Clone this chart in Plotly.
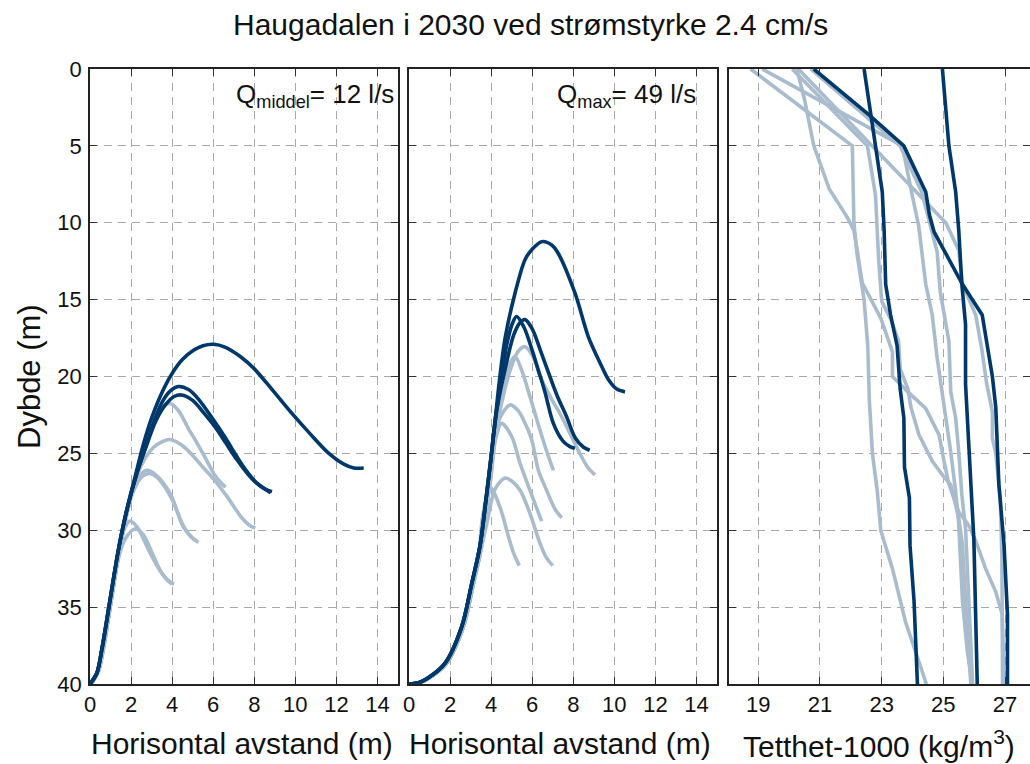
import plotly.graph_objects as go

# ---------------- data ----------------
# Panel 1: plume trajectories at mean discharge (horizontal distance m, depth m)
mid_dark_x = [
    [0, 0.33, 0.57, 0.98, 1.38, 1.79, 2.2, 2.6, 3.0, 3.5, 4.0, 4.5, 5.04, 5.5, 6.02, 6.6, 7.32, 8.0, 8.9, 9.9, 10.7, 11.55, 12.36, 12.85, 13.33],
    [0, 0.33, 0.57, 0.98, 1.38, 1.79, 2.28, 2.7, 3.1, 3.5, 3.9, 4.3, 4.8, 5.3, 6.0, 6.6, 7.15, 7.6, 8.1, 8.5, 8.86],
    [0, 0.33, 0.57, 0.98, 1.38, 1.79, 2.28, 2.75, 3.2, 3.7, 4.1, 4.45, 5.0, 5.5, 6.1, 6.6, 7.15, 7.6, 8.0, 8.5, 8.8],
]
mid_dark_z = [
    [40, 39.3, 37.8, 34.5, 31.3, 28.7, 26.5, 24.4, 22.7, 21.05, 19.8, 18.9, 18.3, 18.0, 17.9, 18.1, 18.7, 19.5, 20.9, 22.5, 23.7, 24.9, 25.7, 25.95, 25.95],
    [40, 39.3, 37.8, 34.5, 31.3, 28.7, 26.3, 24.6, 23.0, 21.7, 20.95, 20.65, 20.85, 21.5, 22.8, 24.0, 25.2, 26.1, 26.9, 27.3, 27.5],
    [40, 39.3, 37.8, 34.5, 31.3, 28.7, 26.3, 24.5, 22.9, 21.8, 21.3, 21.2, 21.55, 22.3, 23.3, 24.3, 25.4, 26.2, 26.8, 27.3, 27.55],
]
mid_light_x = [
    [0.05, 0.4, 0.65, 1.05, 1.45, 1.85, 2.3, 2.7, 3.1, 3.5, 3.9, 4.3, 4.8, 5.2, 5.7, 6.02, 6.3, 6.6],
    [0.05, 0.4, 0.65, 1.05, 1.45, 1.85, 2.3, 2.65, 3.1, 3.5, 3.9, 4.6, 5.5, 6.1, 6.67, 7.4, 7.8, 8.05],
    [0.05, 0.4, 0.65, 1.05, 1.45, 1.75, 2.05, 2.4, 2.76, 3.2, 3.9, 4.2, 4.55, 5.0, 5.28],
    [0.05, 0.4, 0.65, 1.05, 1.45, 1.8, 2.2, 2.55, 2.9, 3.3, 4.0, 4.5, 4.9, 5.2],
    [0.05, 0.4, 0.65, 1.05, 1.3, 1.5, 1.75, 1.95, 2.3, 2.9, 3.4, 3.8, 4.1],
    [0.05, 0.4, 0.65, 1.05, 1.35, 1.7, 2.2, 2.6, 3.0, 3.5, 4.0],
]
mid_light_z = [
    [40, 39.2, 37.7, 34.4, 31.2, 28.6, 26.2, 24.6, 22.8, 22.0, 21.75, 22.2, 23.4, 24.3, 25.5, 26.3, 26.8, 27.2],
    [40, 39.2, 37.7, 34.4, 31.2, 28.6, 26.4, 25.4, 24.6, 24.25, 24.1, 24.6, 25.9, 26.8, 27.8, 29.2, 29.7, 29.85],
    [40, 39.2, 37.7, 34.4, 31.2, 29.0, 27.5, 26.5, 26.1, 26.4, 27.6, 28.6, 29.8, 30.5, 30.8],
    [40, 39.2, 37.7, 34.4, 31.2, 28.8, 27.2, 26.5, 26.3, 26.6, 28.0, 29.6, 30.4, 30.7],
    [40, 39.2, 37.7, 34.4, 32.2, 30.5, 29.7, 29.4, 29.8, 31.4, 32.6, 33.3, 33.5],
    [40, 39.2, 37.7, 34.4, 32.0, 30.6, 29.9, 30.3, 31.4, 32.8, 33.5],
]

# Panel 2: plume trajectories at maximum discharge
max_dark_x = [
    [0, 0.5, 0.94, 1.75, 2.56, 3.05, 3.46, 3.75, 4.0, 4.2, 4.4, 4.68, 5.16, 5.65, 5.98, 6.46, 6.95, 7.27, 8.09, 8.73, 9.3, 9.71, 10.1, 10.52],
    [0, 0.5, 0.94, 1.75, 2.56, 3.05, 3.46, 3.75, 4.0, 4.2, 4.45, 4.75, 5.02, 5.24, 5.6, 6.0, 6.3, 6.62, 7.03, 7.5, 7.84, 8.08],
    [0, 0.5, 0.94, 1.75, 2.56, 3.05, 3.46, 3.75, 4.0, 4.3, 4.7, 5.1, 5.4, 5.65, 6.0, 6.4, 6.7, 7.2, 7.67, 8.1, 8.5, 8.8],
]
max_dark_z = [
    [40, 39.9, 39.6, 38.66, 36.3, 33.5, 31.0, 28.0, 25.2, 22.8, 20.3, 17.5, 14.6, 12.4, 11.75, 11.23, 11.45, 12.0, 14.6, 17.4, 19.1, 20.2, 20.8, 21.0],
    [40, 39.9, 39.6, 38.66, 36.3, 33.5, 31.0, 28.0, 25.2, 22.8, 20.6, 18.0, 16.6, 16.1, 16.8, 18.3, 19.6, 21.0, 23.05, 24.2, 24.56, 24.67],
    [40, 39.9, 39.6, 38.66, 36.3, 33.5, 31.0, 28.0, 25.2, 22.0, 19.4, 17.3, 16.5, 16.3, 16.9, 18.3, 19.4, 21.2, 22.6, 24.0, 24.6, 24.8],
]
max_light_x = [
    [0.05, 0.55, 1.0, 1.82, 2.64, 3.13, 3.54, 3.83, 4.2, 4.5, 4.9, 5.3, 5.65, 6.0, 6.46, 7.0, 7.43, 8.24, 8.7, 9.06],
    [0.05, 0.55, 1.0, 1.82, 2.64, 3.13, 3.54, 3.83, 4.2, 4.45, 4.8, 5.16, 5.49, 5.89, 6.38, 6.79, 7.03],
    [0.05, 0.55, 1.0, 1.82, 2.64, 3.13, 3.54, 3.83, 4.1, 4.4, 4.92, 5.3, 5.57, 5.97, 6.3, 6.7, 7.1, 7.44],
    [0.05, 0.55, 1.0, 1.82, 2.64, 3.13, 3.54, 3.83, 4.0, 4.2, 4.51, 5.0, 5.41, 5.89, 6.2, 6.46],
    [0.05, 0.55, 1.0, 1.82, 2.64, 3.13, 3.54, 3.8, 4.2, 4.68, 5.0, 5.41, 5.89, 6.38, 6.7, 7.0],
    [0.05, 0.55, 1.0, 1.82, 2.64, 3.13, 3.4, 3.6, 3.95, 4.43, 4.84, 5.1, 5.37],
]
max_light_z = [
    [40, 39.9, 39.6, 38.66, 36.3, 33.5, 31.0, 28.0, 23.8, 21.8, 19.7, 18.4, 18.06, 18.6, 20.2, 21.6, 22.6, 24.8, 25.9, 26.4],
    [40, 39.9, 39.6, 38.66, 36.3, 33.5, 31.0, 28.0, 23.8, 21.6, 19.5, 18.7, 19.6, 21.3, 23.5, 25.2, 26.1],
    [40, 39.9, 39.6, 38.66, 36.3, 33.5, 31.0, 28.0, 25.0, 22.8, 21.85, 22.2, 22.8, 24.1, 26.1, 27.4, 28.6, 29.2],
    [40, 39.9, 39.6, 38.66, 36.3, 33.5, 31.0, 28.0, 26.5, 24.2, 23.05, 23.9, 25.65, 27.4, 28.5, 29.4],
    [40, 39.9, 39.6, 38.66, 36.3, 33.5, 31.0, 29.5, 27.3, 26.6, 26.8, 27.4, 28.9, 30.85, 31.8, 32.3],
    [40, 39.9, 39.6, 38.66, 36.3, 33.5, 31.5, 29.0, 27.2, 28.5, 30.4, 31.5, 32.3],
]

# Panel 3: density profiles (density - 1000, kg/m3, vs depth m)
dens_dark_x = [
    [22.43, 22.64, 22.8, 23.02, 23.08, 23.13, 23.29, 23.5, 23.6, 23.72, 23.74, 23.9, 23.92, 24.05, 24.16],
    [24.97, 25.18, 25.4, 25.5, 25.6, 25.72, 25.72, 25.83, 25.99, 26.1],
    [20.8, 22.6, 23.72, 24.43, 24.55, 24.7, 25.62, 26.26, 26.59, 26.7, 26.8, 26.97, 27.08, 27.08],
]
dens_dark_z = [
    [0, 3.0, 5.0, 8.0, 10.5, 14.0, 16.0, 18.0, 20.8, 22.7, 25.9, 27.9, 31.0, 34.6, 40],
    [0, 5, 8, 10.5, 14, 16.6, 20.5, 24.9, 30.6, 40],
    [0, 3.0, 5.0, 8.0, 9.5, 10.6, 14.0, 16.0, 20.0, 22.0, 27.0, 31.0, 35.5, 40],
]
dens_light_x = [
    [18.75, 22.05, 22.1, 22.2, 22.43, 22.55, 22.6, 22.7, 22.86, 22.97, 23.35, 23.67, 23.78, 24.1, 24.45],
    [20.25, 20.5, 20.8, 21.3, 21.9, 22.1, 22.2, 22.37, 22.97, 23.35, 23.35, 23.85, 24.43, 24.86, 25.02, 25.18, 25.5, 25.83, 26.05, 26.37, 26.7, 26.91, 26.97],
    [20.3, 25.08, 25.5, 25.62, 26.05, 26.26, 26.4, 26.59, 26.59, 26.7, 26.85, 26.9, 26.92],
    [19.13, 23.67, 23.99, 24.2, 24.43, 24.64, 24.8, 24.97, 25.08, 25.24, 25.4, 25.5, 25.62, 25.78, 25.94],
    [20.1, 22.54, 22.8, 22.86, 22.9, 23.0, 23.3, 23.55, 23.6, 23.85, 23.95, 24.21, 24.64, 24.97, 25.24, 25.5, 25.62, 25.72, 25.89],
    [20.7, 23.6, 24.3, 24.57, 24.8, 24.9, 25.18, 25.24, 25.4, 25.5, 25.6, 25.72, 25.85, 25.95],
]
dens_light_z = [
    [0, 5, 10, 12, 15, 18, 21.5, 25, 27.5, 30, 32.5, 35, 36, 37.9, 40],
    [0, 2, 5, 7.8, 9.7, 10.5, 11.7, 13.9, 16.2, 18.4, 20, 21, 22.07, 23.8, 25.5, 27.0, 28.8, 29.7, 30.7, 32.5, 34.0, 35.5, 40],
    [0, 10, 11.8, 14, 16, 18.4, 20.4, 22.3, 24, 25, 28, 32, 40],
    [0, 5, 8.2, 10.2, 14, 16, 18.8, 21, 22.7, 24.9, 27.5, 29.6, 34.6, 37.9, 40],
    [0, 5, 8.2, 10.6, 12.3, 15.1, 16.3, 17.7, 19.5, 20.8, 22, 23.8, 25.5, 26.4, 27.05, 29.2, 30.95, 34.6, 40],
    [0, 5, 8, 10, 11.9, 14.5, 17.7, 21, 22.7, 24.9, 27.7, 29.9, 35, 40],
]

depth_ticks = [0, 5, 10, 15, 20, 25, 30, 35, 40]
dist_ticks = [0, 2, 4, 6, 8, 10, 12, 14]
dens_ticks = [19, 21, 23, 25, 27]

title_text = "Haugadalen i 2030 ved strømstyrke 2.4 cm/s"
q_mid_text = "Q<sub>middel</sub>= 12 l/s"
q_max_text = "Q<sub>max</sub>= 49 l/s"

# ---------------- styling ----------------
DARK = "#00386b"
LIGHT = "#a9bccd"
FONT = "Liberation Sans, Arial, sans-serif"
W, H = 1030, 764
LW = 3.6


def px_x(p):
    return p / W


def px_y(p):
    return 1 - p / H


fig = go.Figure()


def add_set(xs, zs, color, axis, shape):
    for x, z in zip(xs, zs):
        fig.add_trace(go.Scatter(
            x=x, y=z, mode="lines", xaxis="x" + axis, yaxis="y" + axis,
            line=dict(color=color, width=LW, shape=shape, smoothing=0.9),
            hoverinfo="skip", showlegend=False))


add_set(mid_light_x, mid_light_z, LIGHT, "", "spline")
add_set(mid_dark_x, mid_dark_z, DARK, "", "spline")
add_set(max_light_x, max_light_z, LIGHT, "2", "spline")
add_set(max_dark_x, max_dark_z, DARK, "2", "spline")
add_set(dens_light_x, dens_light_z, LIGHT, "3", "linear")
add_set(dens_dark_x, dens_dark_z, DARK, "3", "linear")

y_dom = [px_y(684), px_y(69)]
x_doms = [[px_x(90), px_x(398)], [px_x(409), px_x(717)], [px_x(729), px_x(1030)]]

common = dict(
    showline=True, linecolor="#222", linewidth=1.6, mirror="ticks",
    ticks="inside", ticklen=7, tickwidth=1.3, tickcolor="#333",
    showgrid=True, gridcolor="#a8a8a8", gridwidth=1.1, griddash="8px,6px",
    zeroline=False, automargin=False,
    tickfont=dict(family=FONT, size=22, color="#111"),
)

layout = dict(
    width=W, height=H, margin=dict(l=0, r=0, t=0, b=0, pad=0),
    paper_bgcolor="white", plot_bgcolor="white",
    font=dict(family=FONT, color="#111"),
)
names = ["", "2", "3"]
for i, nm in enumerate(names):
    if i < 2:
        xa = dict(common, domain=x_doms[i], range=[0, 15], tickvals=dist_ticks,
                  anchor="y" + nm, ticklabelstandoff=0)
    else:
        xa = dict(common, domain=x_doms[i], range=[18.05, 27.81], tickvals=dens_ticks,
                  anchor="y" + nm, ticklabelstandoff=0)
    ya = dict(common, domain=y_dom, range=[40, 0], tickvals=depth_ticks,
              anchor="x" + nm, showticklabels=(i == 0), ticklabelstandoff=2)
    layout["xaxis" + nm] = xa
    layout["yaxis" + nm] = ya

fig.update_layout(**layout)

ann = [
    dict(text=title_text, x=px_x(530), y=px_y(24), font=dict(size=30)),
    dict(text=q_mid_text, x=px_x(396), y=px_y(77), xanchor="right", yanchor="top",
         font=dict(size=26)),
    dict(text=q_max_text, x=px_x(698), y=px_y(77), xanchor="right", yanchor="top",
         font=dict(size=26)),
    dict(text="Dybde (m)", x=px_x(29), y=px_y(377), textangle=-90, font=dict(size=31)),
    dict(text="Horisontal avstand (m)", x=px_x(242), y=px_y(743), font=dict(size=30)),
    dict(text="Horisontal avstand (m)", x=px_x(560), y=px_y(743), font=dict(size=30)),
    dict(text="Tetthet-1000 (kg/m<sup>3</sup>)", x=px_x(879), y=px_y(744), font=dict(size=30)),
]
for a in ann:
    a.setdefault("xanchor", "center")
    a.setdefault("yanchor", "middle")
    a["xref"] = "paper"
    a["yref"] = "paper"
    a["showarrow"] = False
    a["font"] = dict(family=FONT, color="#111", **a["font"])
fig.update_layout(annotations=ann)

fig.write_html("out.html")
